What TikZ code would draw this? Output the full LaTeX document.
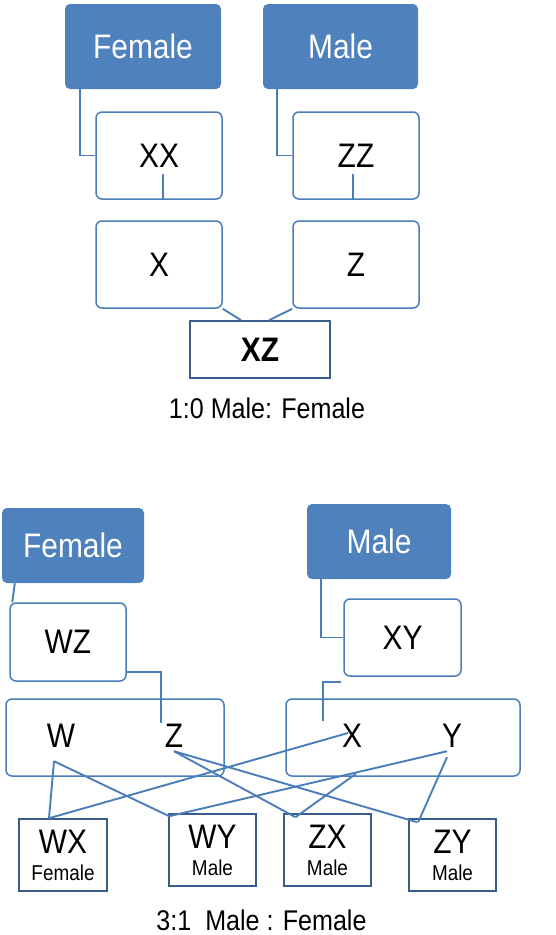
\documentclass[tikz,border=0pt]{standalone}
\usepackage{fontspec}
\setmainfont[FakeStretch=0.88]{Liberation Sans}
\definecolor{sexblue}{HTML}{4F81BD}
\definecolor{lineblue}{HTML}{4A7EBB}
\definecolor{edgeblue}{HTML}{385D8A}
\newcommand{\bigtxt}{\fontsize{34}{36}\selectfont}
\newcommand{\smalltxt}{\fontsize{21.5}{27}\selectfont}
\newcommand{\captxt}{\fontsize{28.5}{30}\selectfont}
\begin{document}
\begin{tikzpicture}[x=1pt,y=-1pt,
    sexbox/.style={fill=sexblue,text=white,rounded corners=5pt,font=\bigtxt,inner sep=0pt},
    genebox/.style={draw=lineblue,line width=1.5pt,fill=white,rounded corners=6pt,font=\bigtxt,inner sep=0pt},
    kidbox/.style={draw=edgeblue,line width=1.6pt,fill=white,align=center,font=\smalltxt,inner sep=0pt,minimum width=87pt,minimum height=72pt},
    link/.style={lineblue,line width=1.9pt}]
  \useasboundingbox (0,0) rectangle (556,935);
  % 1:0
  \node[sexbox,minimum width=156pt,minimum height=85pt] (fem1) at (143,46.5) {Female};
  \node[sexbox,minimum width=155pt,minimum height=85pt] (male1) at (340.5,46.5) {Male};
  \node[genebox,minimum width=126pt,minimum height=87pt] (xx) at (159,155.5) {XX};
  \node[genebox,minimum width=126pt,minimum height=87pt] (zz) at (356,155.5) {ZZ};
  \node[genebox,minimum width=126pt,minimum height=87pt] (x1) at (159,264.5) {X};
  \node[genebox,minimum width=126pt,minimum height=87pt] (z1) at (356,264.5) {Z};
  \node[draw=edgeblue,line width=1.6pt,minimum width=140pt,minimum height=57pt,font=\bigtxt\bfseries] (xz) at (260,349.5) {XZ};
  \node[font=\captxt] (ratio1) at (267,408) {1:0 Male: Female};
  \draw[link] ([xshift=15pt]fem1.south west) |- (xx.west);
  \draw[link] ([xshift=14pt]male1.south west) |- (zz.west);
  \draw[link] ([xshift=4pt]xx.south) -- ++(0,-26);
  \draw[link] ([xshift=-3pt]zz.south) -- ++(0,-26);
  \draw[link] (x1.south east) -- ([xshift=-19pt]xz.north);
  \draw[link] (z1.south west) -- ([xshift=9pt]xz.north);
  % 3:1
  \node[sexbox,minimum width=142pt,minimum height=75pt] (fem2) at (73,545.5) {Female};
  \node[sexbox,minimum width=144pt,minimum height=75pt] (male2) at (379,541.5) {Male};
  \node[genebox,minimum width=116pt,minimum height=78pt] (wz) at (68,642) {WZ};
  \node[genebox,minimum width=117pt,minimum height=77pt] (xy) at (402.5,637.5) {XY};
  \node[genebox,minimum width=218pt,minimum height=77pt] (wzpair) at (115,737.5) {};
  \node[genebox,minimum width=234pt,minimum height=77pt] (xypair) at (403,737.5) {};
  \node[font=\bigtxt] (w) at (61,736) {W};
  \node[font=\bigtxt] (z) at (174,736) {Z};
  \node[font=\bigtxt] (x) at (352,736) {X};
  \node[font=\bigtxt] (y) at (452,736) {Y};
  \node[kidbox,minimum width=88pt] (wx) at (63,855) {{\bigtxt WX}\\Female};
  \node[kidbox] (wy) at (212.5,850) {{\bigtxt WY}\\Male};
  \node[kidbox] (zx) at (327.5,850) {{\bigtxt ZX}\\Male};
  \node[kidbox] (zy) at (452.5,855) {{\bigtxt ZY}\\Male};
  \node[font=\captxt] (ratio2) at (261.5,920) {3:1\ \ Male : Female};
  \coordinate (xyin) at (323,721);
  \draw[link] ([xshift=13pt]fem2.south west) -- ([xshift=3pt]wz.north west);
  \draw[link] ([xshift=14pt]male2.south west) |- (xy.west);
  \draw[link] ([yshift=10pt]wz.south east) -| ([yshift=-2pt]z.north west);
  \draw[link] ([xshift=-2pt,yshift=-5pt]xy.south west) -| (xyin);
  \draw[link] ([xshift=-7pt,yshift=-10pt]w.south) -- ([xshift=-14pt]wx.north);
  \draw[link] ([xshift=-7pt,yshift=-10pt]w.south) -- ([xshift=1pt,yshift=-3pt]wy.north west);
  \draw[link] ([xshift=-4pt,yshift=3pt]x.center) -- ([xshift=-14pt]wx.north);
  \draw[link] ([xshift=-5pt]y.south) -- ([xshift=1pt,yshift=-3pt]wy.north west);
  \draw[link] (z.south) -- ([xshift=-32pt,yshift=-4pt]zx.north);
  \draw[link] (z.south) -- ([xshift=9pt,yshift=-4pt]zy.north west);
  \draw[link] ([xshift=-47pt,yshift=3pt]xypair.south) -- ([xshift=-32pt,yshift=-4pt]zx.north);
  \draw[link] ([xshift=-5pt,yshift=-6pt]y.south) -- ([xshift=10pt,yshift=-4pt]zy.north west);
\end{tikzpicture}
\end{document}
